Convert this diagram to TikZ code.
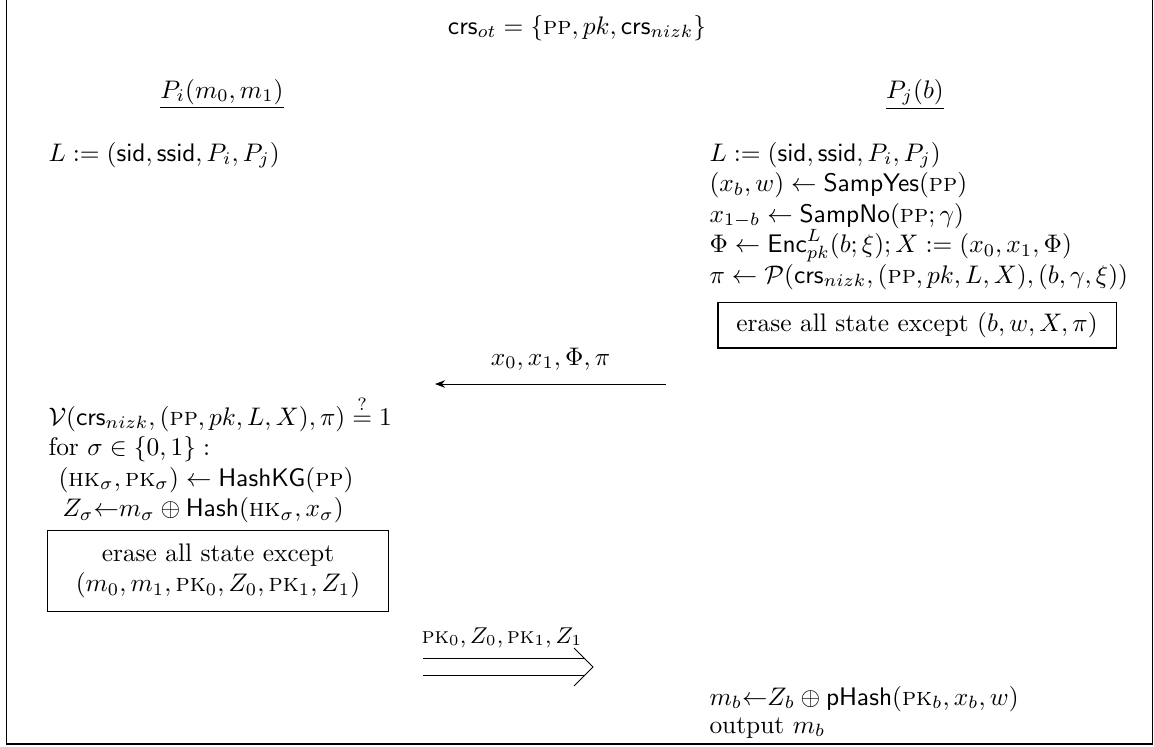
\documentclass[tikz,border=0pt]{standalone}
\usepackage{amsmath,amssymb}
\usetikzlibrary{arrows.meta}
\newcommand{\Spp}{\text{\textsc{pp}}}
\newcommand{\Shk}{\text{\textsc{hk}}}
\newcommand{\Spk}{\text{\textsc{pk}}}
\begin{document}
\begin{tikzpicture}[x=0.3937pt,y=-0.3937pt,
  txt/.style={inner sep=0pt, anchor=base west},
  ctr/.style={inner sep=0pt, anchor=base},
  erasebox/.style={draw, line width=0.4pt, inner sep=0pt, align=center},
  frameline/.style={line width=0.6pt}]
\useasboundingbox (0,0) rectangle (1154,746);
\coordinate (f1) at (6.5,-5);
\coordinate (f2) at (6.5,744);
\coordinate (f3) at (1152.5,744);
\coordinate (f4) at (1152.5,-5);
\draw[frameline] (f1) -- (f2) -- (f3) -- (f4);

\node[ctr] (title) at (577,34) {$\mathsf{crs}_{ot}=\{\Spp, pk, \mathsf{crs}_{nizk}\}$};
\node[ctr] (pi) at (222,98) {$\underline{P_i(m_0,m_1)}$};
\node[ctr] (pj) at (915,98) {$\underline{P_j(b)}$};

\node[txt] (l1) at (48,161) {$L:=(\mathsf{sid},\mathsf{ssid},P_i,P_j)$};

\node[txt] (r1) at (709,161) {$L:=(\mathsf{sid},\mathsf{ssid},P_i,P_j)$};
\node[txt] (r2) at (709,191.5) {$(x_b,w)\leftarrow\mathsf{SampYes}(\Spp)$};
\node[txt] (r3) at (709,222) {$x_{1-b}\leftarrow\mathsf{SampNo}(\Spp;\gamma)$};
\node[txt] (r4) at (709,252.5) {$\Phi\leftarrow\mathsf{Enc}^L_{pk}(b;\xi); X:=(x_0,x_1,\Phi)$};
\node[txt] (r5) at (709,283) {$\pi\leftarrow\mathcal{P}(\mathsf{crs}_{nizk},(\Spp,pk,L,X),(b,\gamma,\xi))$};
\node[erasebox, minimum width=156.7pt, minimum height=18.1pt] (rbox) at (917,325) {erase all state except $(b,w,X,\pi)$};

\coordinate (a1s) at (666,384);
\coordinate (a1e) at (435,384);
\draw[-{Stealth[length=4pt,width=3pt]}] (a1s) -- (a1e) node[midway, above=2pt] (a1l) {$x_0,x_1,\Phi,\pi$};

\node[txt] (v1) at (48,425) {$\mathcal{V}(\mathsf{crs}_{nizk},(\Spp,pk,L,X),\pi)\stackrel{?}{=}1$};
\node[txt] (v2) at (48,455.5) {for $\sigma\in\{0,1\}:$};
\node[txt] (v3) at (58,486) {$(\Shk_\sigma,\Spk_\sigma)\leftarrow\mathsf{HashKG}(\Spp)$};
\node[txt] (v4) at (62,516.5) {$Z_\sigma{\leftarrow}m_\sigma\oplus\mathsf{Hash}(\Shk_\sigma,x_\sigma)$};
\node[erasebox, minimum width=134.3pt, minimum height=31.9pt] (lbox) at (218,571) {erase all state except\\ $(m_0,m_1,\Spk_0,Z_0,\Spk_1,Z_1)$};

\coordinate (a2s) at (423,667);
\coordinate (a2e) at (593,667);
\draw (a2s) ++(0,-8.5) coordinate (a2u) -- ++(162,0);
\draw (a2s) ++(0,8.5) coordinate (a2d) -- ++(162,0);
\draw (a2e) ++(-19,-19) -- (a2e) -- ++(-19,19);
\node[ctr] (a2l) at (502,643) {\small$\Spk_0,Z_0,\Spk_1,Z_1$};

\node[txt] (o1) at (709,705) {$m_b{\leftarrow}Z_b\oplus\mathsf{pHash}(\Spk_b,x_b,w)$};
\node[txt] (o2) at (709,733) {output $m_b$};
\end{tikzpicture}
\end{document}
